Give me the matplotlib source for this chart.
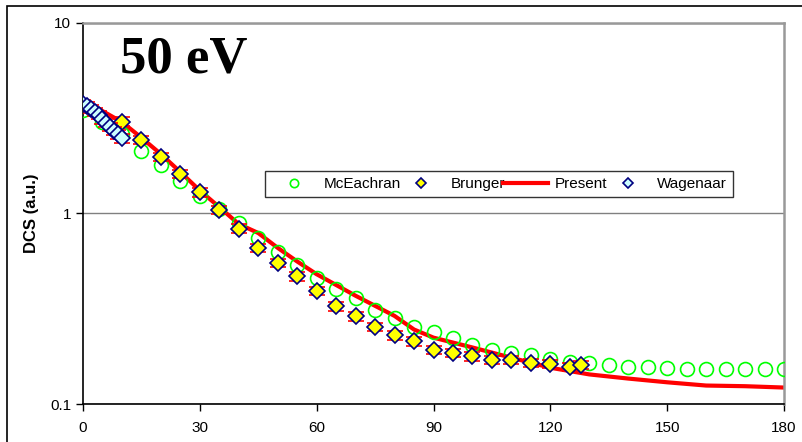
import numpy as np
import matplotlib.pyplot as plt
from matplotlib.patches import Rectangle

# McEachran (open circles)
mce_angle = np.arange(0, 185, 5)
mce_dcs = np.array([
    3.5, 3.04, 2.6, 2.14, 1.79, 1.49, 1.24, 1.05, 0.887, 0.746,
    0.63, 0.535, 0.46, 0.40, 0.359, 0.313, 0.284, 0.255, 0.238, 0.221,
    0.203, 0.193, 0.186, 0.180, 0.173, 0.167, 0.165, 0.161, 0.157, 0.157,
    0.155, 0.153, 0.153, 0.153, 0.153, 0.153, 0.153,
])

# Brunger (yellow diamonds)
bru_angle = np.array([10, 15, 20, 25, 30, 35, 40, 45, 50, 55, 60, 65, 70,
                      75, 80, 85, 90, 95, 100, 105, 110, 115, 120, 125, 128])
bru_dcs = np.array([
    3.04, 2.44, 1.99, 1.62, 1.29, 1.04, 0.834, 0.66, 0.55, 0.468,
    0.394, 0.325, 0.288, 0.255, 0.229, 0.213, 0.193, 0.186, 0.178, 0.171,
    0.170, 0.165, 0.163, 0.157, 0.161,
])

# Wagenaar (light blue diamonds)
wag_angle = np.arange(0, 11, 1)
wag_dcs = np.array([3.75, 3.65, 3.55, 3.42, 3.28, 3.12, 2.98, 2.85, 2.72, 2.6, 2.48])

# Present calculation
pre_angle = np.array([0, 5, 10, 15, 20, 25, 30, 35, 40, 45, 50, 55, 60, 70, 80,
                      85, 90, 100, 110, 120, 130, 140, 150, 160, 170, 180])
pre_dcs = np.array([
    3.85, 3.45, 3.02, 2.5, 2.05, 1.65, 1.32, 1.08, 0.88, 0.79,
    0.66, 0.56, 0.48, 0.37, 0.29, 0.246, 0.223, 0.198, 0.175, 0.155,
    0.143, 0.136, 0.130, 0.125, 0.124, 0.122,
])

rel_err = 0.05

plt.rcParams['font.family'] = ['Liberation Sans', 'DejaVu Sans']

fig = plt.figure(figsize=(8.02, 4.42), dpi=100)
ax = fig.add_axes([83 / 802, 38 / 442, 701 / 802, 381 / 442])

# outer chart frame
fig.patches.append(Rectangle((7 / 802, -0.1), 1.2, (442 - 6.5) / 442 + 0.1,
                             transform=fig.transFigure, fill=False,
                             edgecolor='black', linewidth=1.2, zorder=0))

pre_line, = ax.plot(pre_angle, pre_dcs, color='red', linewidth=3, zorder=2)
mce_pts, = ax.plot(mce_angle, mce_dcs, 'o', markerfacecolor='none',
                   markeredgecolor='#00ff00', markersize=10,
                   markeredgewidth=1.2, zorder=3)
bru = ax.errorbar(bru_angle, bru_dcs, yerr=bru_dcs * rel_err, fmt='D',
                  color='#ffff00', markeredgecolor='#000080', markersize=8,
                  markeredgewidth=1.2, ecolor='red', elinewidth=0.8,
                  capsize=6, zorder=4)
wag = ax.errorbar(wag_angle, wag_dcs, yerr=wag_dcs * rel_err, fmt='D',
                  color='#ccffff', markeredgecolor='#000080', markersize=8,
                  markeredgewidth=1.2, ecolor='red', elinewidth=0.8,
                  capsize=6, zorder=5)

ax.set_yscale('log')
ax.set_xlim(0, 180)
ax.set_ylim(0.1, 10)
ax.set_xticks(range(0, 181, 30))
ax.set_yticks([0.1, 1, 10])
ax.set_yticklabels(['0.1', '1', '10'])
ax.yaxis.set_minor_locator(plt.NullLocator())
ax.tick_params(axis='both', direction='out', length=5, labelsize=11, width=1)
ax.tick_params(axis='x', pad=7)
ax.yaxis.grid(True, color='#808080', linewidth=1)
ax.set_axisbelow(True)

for side in ['left', 'bottom']:
    ax.spines[side].set_color('black')
    ax.spines[side].set_linewidth(1.2)
for side in ['top', 'right']:
    ax.spines[side].set_color('#999999')
    ax.spines[side].set_linewidth(1.8)

ax.set_ylabel('DCS (a.u.)', fontsize=12, fontweight='bold', labelpad=8)

ax.text(0.053, 0.869, '50 eV', transform=ax.transAxes, fontsize=38,
        fontweight='bold', family=['Liberation Serif', 'DejaVu Serif'],
        va='baseline', ha='left')

leg = ax.legend([mce_pts, bru[0], pre_line, wag[0]],
                ['McEachran', 'Brunger', 'Present', 'Wagenaar'],
                ncol=4, loc='lower left',
                bbox_to_anchor=(0.26, 0.543, 0.667, 0.076), mode='expand',
                fontsize=11, frameon=True, fancybox=False, edgecolor='black',
                handlelength=3, handletextpad=0.4, columnspacing=0.6,
                markerscale=0.6, borderaxespad=0)
leg.get_frame().set_linewidth(1)

fig.savefig('out.png', dpi=100)
